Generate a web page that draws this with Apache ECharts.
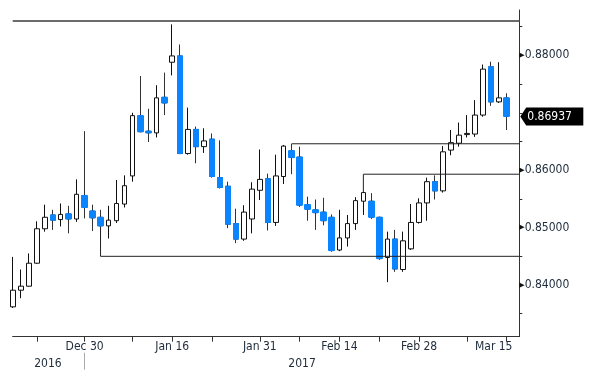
<!DOCTYPE html>
<html><head><meta charset="utf-8">
<script src="https://cdn.jsdelivr.net/npm/echarts@6/dist/echarts.min.js"></script>
<style>html,body{margin:0;padding:0;background:#fff}#c{width:600px;height:382px}</style>
</head><body><div id="c"></div>
<script>
const dates = ['Dec 19','Dec 20','Dec 21','Dec 22','Dec 23','Dec 26','Dec 27','Dec 28','Dec 29','Dec 30',
  'Jan 2','Jan 3','Jan 4','Jan 5','Jan 6','Jan 9','Jan 10','Jan 11','Jan 12','Jan 13',
  'Jan 16','Jan 17','Jan 18','Jan 19','Jan 20','Jan 23','Jan 24','Jan 25','Jan 26','Jan 27','Jan 30','Jan 31',
  'Feb 1','Feb 2','Feb 3','Feb 6','Feb 7','Feb 8','Feb 9','Feb 10','Feb 13','Feb 14','Feb 15','Feb 16','Feb 17',
  'Feb 20','Feb 21','Feb 22','Feb 23','Feb 24','Feb 27','Feb 28',
  'Mar 1','Mar 2','Mar 3','Mar 6','Mar 7','Mar 8','Mar 9','Mar 10','Mar 13','Mar 14','Mar 15'];
const opens  = [0.8362,0.8391,0.8398,0.8438,0.8498,0.8522,0.8514,0.8524,0.8515,0.8556,
  0.8529,0.8518,0.8503,0.8512,0.8541,0.8590,0.8695,0.8668,0.8665,0.8727,
  0.8788,0.8799,0.8629,0.8671,0.8641,0.8654,0.8587,0.8572,0.8507,0.8480,0.8515,0.8565,
  0.8585,0.8509,0.8589,0.8634,0.8623,0.8540,0.8531,0.8527,0.8518,0.8461,0.8482,0.8507,0.8546,
  0.8546,0.8518,0.8448,0.8480,0.8427,0.8463,0.8509,
  0.8543,0.8580,0.8564,0.8635,0.8647,0.8662,0.8663,0.8696,0.8780,0.8719,0.8726];
const closes = [0.8391,0.8398,0.8438,0.8498,0.8518,0.8513,0.8523,0.8515,0.8558,0.8535,
  0.8517,0.8503,0.8513,0.8542,0.8573,0.8695,0.8667,0.8665,0.8726,0.8717,
  0.8799,0.8629,0.8671,0.8641,0.8651,0.8589,0.8570,0.8506,0.8480,0.8527,0.8567,0.8584,
  0.8509,0.8590,0.8642,0.8622,0.8539,0.8532,0.8526,0.8512,0.8460,0.8482,0.8507,0.8547,0.8561,
  0.8518,0.8446,0.8480,0.8428,0.8477,0.8509,0.8543,
  0.8580,0.8564,0.8632,0.8648,0.8661,0.8664,0.8696,0.8776,0.8719,0.8726,0.86937];
const lows   = [0.8360,0.8377,0.8397,0.8437,0.8493,0.8496,0.8502,0.8490,0.8510,0.8516,
  0.8494,0.8501,0.8481,0.8508,0.8535,0.8580,0.8666,0.8649,0.8657,0.8696,
  0.8765,0.8628,0.8627,0.8612,0.8630,0.8587,0.8568,0.8499,0.8473,0.8477,0.8490,0.8548,
  0.8495,0.8503,0.8576,0.8593,0.8536,0.8512,0.8496,0.8504,0.8458,0.8459,0.8467,0.8496,0.8522,
  0.8515,0.8444,0.8405,0.8423,0.8423,0.8461,0.8507,
  0.8512,0.8549,0.8561,0.8626,0.8641,0.8657,0.8658,0.8693,0.8712,0.8717,0.8670];
const highs  = [0.8449,0.8427,0.8455,0.8511,0.8540,0.8531,0.8542,0.8538,0.8584,0.8668,
  0.8540,0.8531,0.8538,0.8583,0.8591,0.8700,0.8764,0.8707,0.8748,0.8770,
  0.8854,0.8819,0.8709,0.8676,0.8673,0.8664,0.8652,0.8580,0.8533,0.8539,0.8579,0.8636,
  0.8594,0.8627,0.8644,0.8646,0.8641,0.8554,0.8549,0.8552,0.8523,0.8531,0.8522,0.8553,0.8562,
  0.8560,0.8519,0.8493,0.8496,0.8493,0.8541,0.8551,
  0.8587,0.8591,0.8642,0.8670,0.8683,0.8696,0.8722,0.8784,0.8789,0.8788,0.8734];
const xTickIdx  = [3,9,15,20,25,31,36,41,46,51,57,62];
const xLabelIdx = [9,20,31,41,51,62];
const yearNames = ['2016','2017'];
const yearLabelPos = [4.4, 36.3];
const yearBreakIdx = [9];
const yLabelVals = [0.84,0.85,0.86,0.88];
const yTickVals = [0.835,0.84,0.845,0.85,0.855,0.86,0.865,0.87,0.875,0.88,0.885];
const levels    = [0.8860, 0.8646, 0.8593, 0.8450];
const levelFrom = [null, 35, 44, 11];
const lastPrice = 0.86937;

const X_MIN = -0.03, X_MAX = 63.58;
const FONT = "'Liberation Sans Narrow','DejaVu Sans Condensed','Roboto Condensed',sans-serif";
const TXT = '#1d2b3a';
const BLUE = '#0a84ff';

const candles = dates.map((d,i)=>[i, opens[i], closes[i], lows[i], highs[i]]);
const downBodies = [];
dates.forEach((d,i)=>{ if (closes[i] < opens[i]) downBodies.push([i, opens[i], closes[i], closes[i], opens[i]]); });

const levelSeries = levels.map((lv,k)=>{
  let pts;
  if (levelFrom[k] === null) {
    pts = [[X_MIN, lv],[X_MAX, lv]];
  } else {
    const i = levelFrom[k];
    const anchor = lv < lows[i] ? lows[i] : (lv > highs[i] ? highs[i] : lv);
    pts = [[i, anchor],[i, lv],[X_MAX, lv]];
  }
  return {
    type:'line', data:pts, symbol:'none', silent:true, z:5, animation:false,
    lineStyle: levelFrom[k] === null ? {color:'#6b6b6b', width:2} : {color:'#222', width:1}
  };
});

const chart = echarts.init(document.getElementById('c'), null, {renderer:'canvas'});
chart.setOption({
  animation:false,
  backgroundColor:'#fff',
  grid:{left:12.7, right:80.7, top:10, bottom:45.3, containLabel:false},
  xAxis:[{
    type:'value', min:X_MIN, max:X_MAX, position:'bottom',
    splitLine:{show:false},
    axisLine:{show:true, onZero:false, lineStyle:{color:'#333', width:1.2}},
    axisTick:{show:true, customValues:xTickIdx, length:5, lineStyle:{color:'#333'}},
    axisLabel:{show:true, customValues:xLabelIdx, margin:4, fontFamily:FONT, fontSize:12, color:TXT,
      formatter:(v)=>{ const i=Math.round(v); return i===62 ? '{r|'+dates[i]+'}' : dates[i]; },
      rich:{r:{fontFamily:FONT, fontSize:12, color:TXT, padding:[0,26,0,0]}}}
  },{
    type:'value', min:X_MIN, max:X_MAX, position:'bottom', offset:16,
    splitLine:{show:false},
    axisLine:{show:false, onZero:false},
    axisTick:{show:true, customValues:yearBreakIdx, length:17, lineStyle:{color:'#aaa'}},
    axisLabel:{show:true, customValues:yearLabelPos, margin:5, fontFamily:FONT, fontSize:12, color:TXT,
      formatter:(v)=> v < yearBreakIdx[0] ? yearNames[0] : yearNames[1]}
  }],
  yAxis:{
    type:'value', position:'right', min:0.831, max:0.8879, scale:true,
    splitLine:{show:false},
    axisLine:{show:true, onZero:false, lineStyle:{color:'#333', width:1}},
    axisTick:{show:true, customValues:yTickVals, length:3, lineStyle:{color:'#333'}},
    axisLabel:{show:true, customValues:yLabelVals, margin:0, fontFamily:FONT, fontSize:12, color:TXT,
      formatter:(v)=>'{t|\u25B6}{v|'+v.toFixed(5)+'}',
      rich:{t:{fontSize:7, color:'#111', fontFamily:'DejaVu Sans'}, v:{fontFamily:FONT, fontSize:12, color:TXT}}}
  },
  series:[{
    type:'candlestick', data:candles, encode:{x:0, y:[1,2,3,4]}, barWidth:5, clip:true, z:2,
    itemStyle:{color:'#ffffff', color0:BLUE, borderColor:'#111', borderColor0:'#333', borderWidth:1},
    markPoint:{
      symbol:'path://M0,9L6,0L64,0L64,18L6,18Z', symbolSize:[63,18], symbolOffset:[32.5,0],
      itemStyle:{color:'#000'},
      label:{show:true, position:[7,9], align:'left', verticalAlign:'middle', color:'#fff', fontFamily:FONT, fontSize:12,
        formatter:()=> lastPrice.toFixed(5)},
      data:[{coord:[X_MAX, lastPrice]}]
    }
  },{
    type:'candlestick', data:downBodies, encode:{x:0, y:[1,2,3,4]}, barWidth:6, clip:true, z:3,
    itemStyle:{color:BLUE, color0:BLUE, borderColor:BLUE, borderColor0:BLUE, borderWidth:1}
  }].concat(levelSeries)
});
</script></body></html>
